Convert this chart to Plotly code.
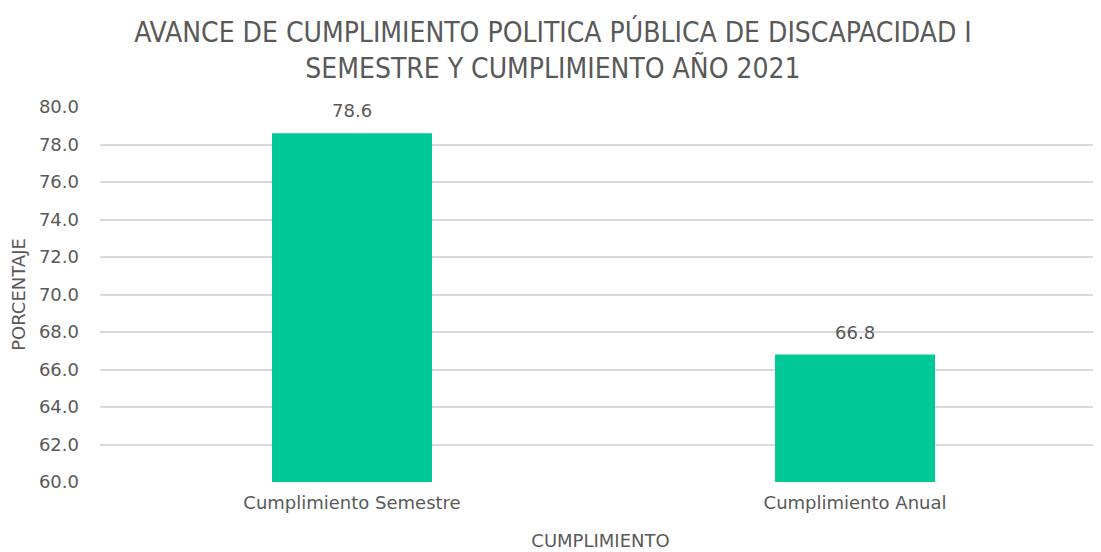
import plotly.graph_objects as go

categories = ["Cumplimiento Semestre", "Cumplimiento Anual"]
values = [78.6, 66.8]
value_labels = ["78.6", "66.8"]
y_ticks = [60, 62, 64, 66, 68, 70, 72, 74, 76, 78, 80]
y_tick_labels = [f"{v:.1f}" for v in y_ticks]

gray = "#595959"

fig = go.Figure(go.Bar(
    x=categories, y=values,
    marker=dict(color="#00C896", line=dict(width=0)),
    width=0.318,
))

for c, v, t in zip(categories, values, value_labels):
    fig.add_annotation(
        x=c, y=v, text=t, showarrow=False, yanchor="bottom", yshift=10,
        font=dict(size=18, color=gray, family="DejaVu Sans"),
    )

# page body has an 8px margin, so the figure is sized to fit the 1101x552 window
fig.update_layout(
    width=1093, height=544,
    margin=dict(l=92, r=0, t=99, b=70),
    paper_bgcolor="white", plot_bgcolor="white",
    showlegend=False,
    title=dict(
        text="AVANCE DE CUMPLIMIENTO POLITICA PÚBLICA DE DISCAPACIDAD I<br>SEMESTRE Y CUMPLIMIENTO AÑO 2021",
        x=0.4986, xanchor="center", y=0.9375, yanchor="top",
        font=dict(family="DejaVu Sans Condensed, DejaVu Sans", size=28, color=gray),
    ),
    font=dict(family="DejaVu Sans", color=gray),
)

fig.update_xaxes(
    range=[-0.501, 1.489], automargin=False,
    tickfont=dict(size=18, color=gray),
    showline=False, ticks="", ticklabelstandoff=8,
    title=dict(text="CUMPLIMIENTO", font=dict(size=18, color=gray), standoff=22),
)
fig.update_yaxes(
    range=[60, 80], tickvals=y_ticks, ticktext=y_tick_labels, automargin=False,
    tickfont=dict(size=18, color=gray),
    gridcolor="#d9d9d9", gridwidth=1.5, zeroline=False, showline=False,
    ticks="", ticklabelstandoff=20,
    title=dict(text="PORCENTAJE", font=dict(size=18, color=gray), standoff=10),
)

fig.write_html("out.html")
